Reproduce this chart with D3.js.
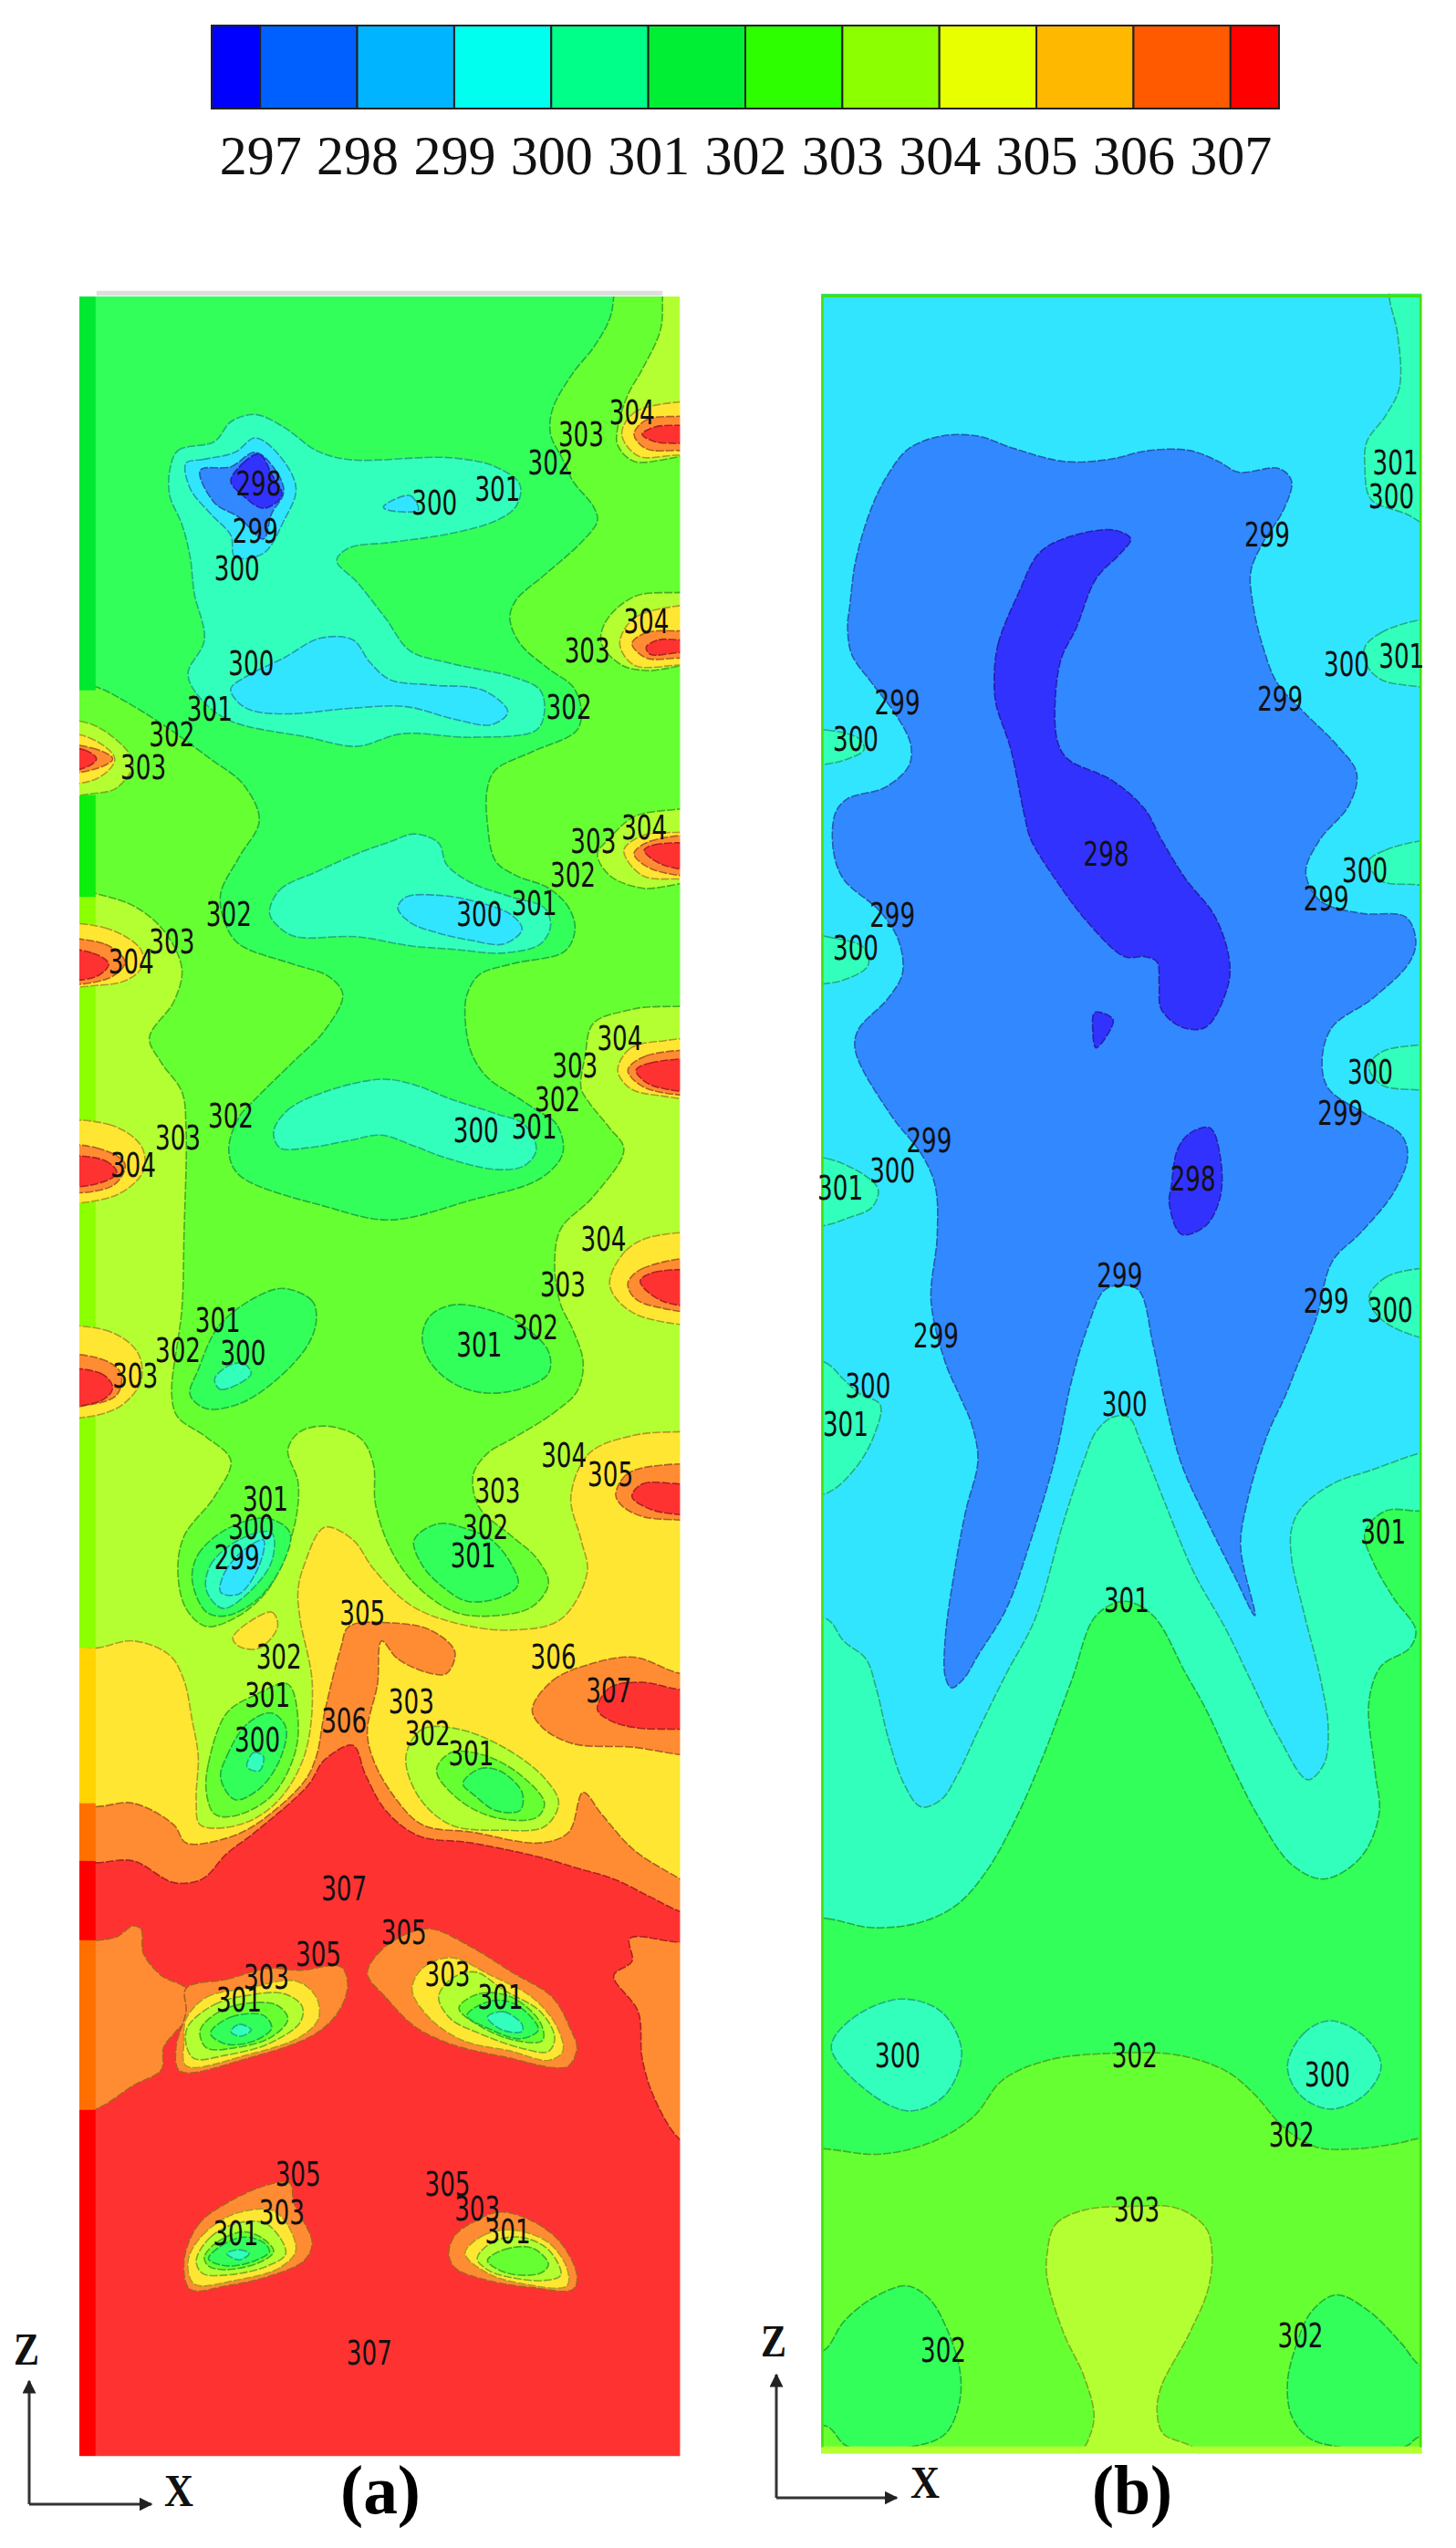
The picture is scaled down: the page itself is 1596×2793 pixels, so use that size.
<!DOCTYPE html>
<html>
<head>
<meta charset="utf-8">
<script src="https://cdn.jsdelivr.net/npm/d3@7.9.0/dist/d3.min.js"></script>
<style>
  body { margin: 0; background: #fff; }
  svg { display: block; }
  .contour-label { font-family: "DejaVu Sans Condensed", "DejaVu Sans", sans-serif; font-size: 37px; fill: #111; text-anchor: middle; dominant-baseline: central; }
  .bar-label { font-family: "Liberation Serif", serif; font-size: 62px; fill: #111; }
  .axis-name { font-family: "Liberation Serif", serif; font-size: 50px; font-weight: bold; fill: #111; text-anchor: middle; }
  .panel-name { font-family: "Liberation Serif", serif; font-size: 76px; font-weight: bold; fill: #000; text-anchor: middle; }
</style>
</head>
<body>
<svg id="chart" width="1596" height="2793"></svg>
<script>
// colour bar
const barTicks = [297, 298, 299, 300, 301, 302, 303, 304, 305, 306, 307];
const barEdges = [296.5, 297, 298, 299, 300, 301, 302, 303, 304, 305, 306, 307, 307.5];
const barColors = ['#0000ff', '#0060ff', '#00b4ff', '#00ffee', '#00ff88', '#00ee33', '#2dff00', '#8cff00', '#e8ff00', '#ffb800', '#ff5a00', '#ff0000'];

// filled bands, the plots are paler than the bar
const bandLevels = [298, 299, 300, 301, 302, 303, 304, 305, 306, 307];
const bandColors = ['#3333ff', '#3388ff', '#33e5ff', '#33ffbb', '#33ff5a', '#66ff33', '#b3ff33', '#ffe633', '#ff8c33', '#ff3333'];

// panel (a): [band, outline], painted in this order. x runs 0-1568 across a panel, z 0-6171 down the page
const regionsA = [
  [303, [[-50,-50],[1470,-50],[1470,38],[1465,130],[1420,240],[1385,310],[1360,400],[1360,450],[1400,495],[1600,490],[1600,830],[1400,870],[1330,940],[1320,1000],[1370,1060],[1430,1075],[1600,1070],[1600,1420],[1400,1480],[1340,1540],[1310,1583],[1340,1643],[1420,1678],[1600,1673],[1600,1975],[1400,2013],[1300,2053],[1280,2143],[1270,2233],[1290,2273],[1340,2343],[1375,2403],[1300,2533],[1220,2623],[1205,2723],[1220,2833],[1250,2903],[1275,2993],[1260,3073],[1200,3135],[1100,3205],[1040,3245],[1005,3305],[1020,3395],[1100,3475],[1160,3535],[1190,3605],[1150,3670],[1060,3695],[960,3685],[860,3605],[800,3505],[765,3385],[760,3275],[730,3205],[650,3170],[580,3185],[550,3235],[575,3325],[570,3425],[540,3535],[500,3625],[430,3695],[350,3725],[300,3675],[280,3575],[295,3475],[370,3365],[410,3265],[350,3200],[280,3145],[265,3085],[290,2843],[295,2643],[300,2343],[290,2243],[240,2163],[210,2093],[270,1993],[290,1903],[250,1803],[180,1733],[78,1693],[-50,1673]]],
  [302, [[-50,-50],[1350,-50],[1350,38],[1340,100],[1300,180],[1250,250],[1200,350],[1195,420],[1225,490],[1250,550],[1300,620],[1310,660],[1270,720],[1180,810],[1110,880],[1095,930],[1120,1000],[1190,1070],[1250,1120],[1270,1180],[1260,1240],[1150,1300],[1060,1350],[1040,1400],[1040,1500],[1060,1603],[1110,1643],[1190,1678],[1240,1733],[1255,1793],[1230,1853],[1100,1888],[1020,1918],[990,1973],[985,2033],[1000,2133],[1040,2203],[1120,2263],[1160,2293],[1210,2333],[1225,2413],[1170,2483],[1000,2543],[800,2598],[650,2563],[430,2473],[405,2403],[430,2313],[470,2263],[560,2163],[640,2073],[685,1973],[650,1923],[560,1888],[430,1833],[395,1773],[385,1693],[430,1593],[480,1490],[440,1390],[360,1320],[250,1230],[150,1160],[78,1120],[-50,1100]]],
  [302, [[620,2873],[610,2823],[540,2788],[470,2813],[380,2893],[330,3013],[310,3083],[350,3121],[430,3108],[520,3043],[600,2943]]],
  [301, [[370,3040],[385,3068],[460,3025],[440,2995],[400,3005]]],
  [302, [[880,2923],[900,2863],[960,2833],[1060,2853],[1130,2893],[1190,2963],[1190,3023],[1130,3063],[1040,3078],[960,3053],[900,2993]]],
  [301, [[260,520],[280,465],[370,440],[410,385],[470,365],[540,400],[620,465],[700,490],[950,485],[1060,510],[1120,560],[1110,620],[1060,660],[950,695],[800,720],[700,735],[670,770],[720,830],[790,930],[850,1020],[950,1055],[1110,1095],[1170,1130],[1180,1190],[1160,1240],[1000,1260],[830,1250],[720,1285],[600,1260],[400,1210],[320,1130],[305,1080],[345,990],[320,860],[310,760],[290,670],[260,590]]],
  [300, [[300,500],[340,490],[420,470],[470,430],[530,480],[570,570],[540,660],[490,750],[420,760],[410,700],[360,640],[310,570]]],
  [299, [[335,520],[410,510],[470,470],[520,520],[540,580],[510,640],[490,710],[430,650],[370,610]]],
  [298, [[410,550],[440,500],[480,475],[510,530],[535,590],[490,625],[440,590]]],
  [300, [[785,620],[850,590],[870,630],[790,628]]],
  [300, [[410,1125],[450,1090],[540,1040],[630,985],[710,990],[750,1050],[800,1100],[900,1115],[1030,1130],[1090,1190],[1050,1225],[960,1210],[840,1175],[700,1180],[550,1195],[460,1185],[425,1160]]],
  [301, [[505,1748],[530,1683],[620,1633],[730,1578],[800,1550],[860,1528],[920,1553],[940,1613],[1000,1663],[1100,1703],[1180,1733],[1195,1783],[1170,1833],[1080,1858],[960,1848],[850,1838],[720,1813],[570,1813],[530,1788]]],
  [300, [[820,1733],[840,1703],[920,1698],[1020,1718],[1100,1753],[1125,1793],[1080,1833],[1000,1823],[920,1803],[850,1773]]],
  [301, [[515,2353],[550,2293],[640,2243],[780,2208],[860,2223],[950,2263],[1060,2303],[1130,2333],[1160,2403],[1130,2448],[1060,2458],[930,2423],[860,2393],[780,2363],[700,2378],[600,2398],[530,2398]]],
  [302, [[315,3595],[330,3525],[400,3455],[500,3425],[555,3465],[540,3545],[480,3645],[400,3695],[350,3685]]],
  [301, [[350,3625],[360,3555],[430,3485],[510,3465],[510,3545],[450,3635],[390,3675]]],
  [300, [[385,3630],[395,3575],[440,3515],[490,3485],[480,3555],[430,3635]]],
  [302, [[860,3485],[920,3440],[990,3455],[1050,3485],[1100,3555],[1115,3610],[1070,3645],[990,3655],[930,3615],[880,3555]]],
  [305, [[-50,3785],[78,3785],[170,3765],[260,3805],[295,3875],[315,3985],[330,4085],[325,4205],[335,4275],[430,4275],[520,4215],[590,4085],[610,3885],[580,3705],[575,3625],[590,3555],[640,3450],[710,3485],[760,3565],[850,3665],[960,3715],[1100,3735],[1220,3705],[1285,3575],[1270,3485],[1245,3365],[1290,3245],[1400,3195],[1513,3185],[1600,3185],[1600,6300],[-50,6300]]],
  [305, [[415,3755],[510,3685],[525,3725],[480,3785],[430,3780]]],
  [303, [[350,4185],[355,4105],[400,3965],[470,3915],[550,3885],[575,3985],[565,4085],[510,4195],[420,4250],[370,4245]]],
  [302, [[385,4145],[400,4085],[450,3995],[510,3965],[545,4005],[530,4095],[480,4175],[420,4205]]],
  [301, [[450,4115],[465,4075],[490,4085],[480,4125]]],
  [304, [[840,4085],[880,4010],[970,4010],[1080,4060],[1180,4145],[1215,4215],[1180,4280],[1080,4290],[950,4275],[870,4195]]],
  [303, [[915,4125],[950,4075],[1040,4085],[1130,4145],[1180,4215],[1160,4255],[1060,4255],[970,4205]]],
  [302, [[980,4160],[1020,4120],[1070,4125],[1125,4185],[1120,4235],[1060,4235],[1010,4195]]],
  [306, [[-50,4220],[78,4225],[170,4215],[270,4275],[300,4325],[390,4315],[470,4275],[590,4155],[620,4085],[640,3965],[680,3785],[700,3725],[800,3715],[900,3735],[960,3795],[940,3855],[900,3855],[820,3815],[780,3765],[770,3885],[745,4015],[760,4095],[810,4195],[880,4275],[1000,4295],[1170,4325],[1240,4295],[1275,4185],[1320,4245],[1400,4345],[1513,4425],[1600,4480],[1600,6300],[-50,6300]]],
  [306, [[1150,3955],[1200,3875],[1290,3830],[1400,3810],[1513,3855],[1600,3855],[1600,4085],[1513,4080],[1400,4060],[1250,4050],[1175,4005]]],
  [307, [[1310,3955],[1340,3895],[1420,3880],[1513,3900],[1600,3900],[1600,4010],[1513,4010],[1400,4005],[1340,3985]]],
  [306, [[1355,3360],[1380,3305],[1450,3280],[1600,3295],[1600,3435],[1513,3430],[1420,3420],[1370,3390]]],
  [307, [[1395,3365],[1420,3330],[1513,3330],[1600,3335],[1600,3420],[1513,3415],[1440,3400]]],
  [307, [[-50,4375],[78,4380],[170,4375],[270,4435],[340,4425],[400,4355],[470,4295],[600,4165],[640,4095],[710,4055],[740,4135],[790,4235],[870,4305],[1000,4325],[1170,4365],[1260,4395],[1350,4425],[1440,4475],[1513,4515],[1600,4540],[1600,4590],[1513,4600],[1390,4590],[1395,4653],[1350,4693],[1410,4793],[1420,4923],[1450,5033],[1513,5148],[1600,5200],[1600,6300],[-50,6300]]],
  [306, [[-50,4590],[78,4595],[130,4585],[170,4555],[190,4565],[195,4630],[240,4693],[300,4728],[320,4790],[275,4848],[245,4893],[240,4953],[170,4998],[78,5063],[-50,5083]]],
  [306, [[300,4728],[400,4703],[500,4673],[580,4678],[680,4668],[697,4713],[680,4783],[620,4853],[450,4923],[285,4958],[275,4893],[300,4793]]],
  [305, [[300,4813],[350,4753],[450,4728],[570,4708],[620,4753],[625,4813],[580,4863],[450,4913],[300,4943],[295,4873]]],
  [304, [[305,4833],[370,4773],[450,4748],[540,4743],[585,4778],[580,4823],[500,4883],[400,4913],[320,4923],[300,4883]]],
  [303, [[335,4843],[400,4783],[520,4773],[550,4813],[510,4863],[420,4893],[350,4893]]],
  [302, [[360,4853],[410,4808],[490,4803],[510,4838],[470,4873],[400,4883]]],
  [301, [[410,4848],[430,4828],[460,4843],[435,4861]]],
  [306, [[745,4688],[770,4633],[830,4583],[900,4563],[1000,4613],[1100,4683],[1200,4753],[1245,4843],[1260,4893],[1240,4943],[1200,4948],[1100,4923],[950,4883],[860,4833],[790,4753]]],
  [305, [[855,4733],[880,4673],[950,4643],[1050,4693],[1150,4753],[1210,4833],[1225,4903],[1190,4928],[1100,4903],[980,4873],[900,4813]]],
  [304, [[920,4753],[950,4703],[1010,4683],[1080,4733],[1170,4793],[1205,4863],[1190,4903],[1120,4893],[1020,4853],[950,4813]]],
  [303, [[970,4783],[1020,4743],[1100,4753],[1170,4823],[1175,4873],[1110,4873],[1030,4838]]],
  [302, [[990,4803],[1050,4763],[1110,4773],[1165,4843],[1120,4868],[1050,4843]]],
  [301, [[1040,4808],[1080,4793],[1125,4828],[1125,4848],[1075,4843]]],
  [306, [[295,5483],[330,5383],[400,5323],[500,5273],[555,5268],[565,5323],[610,5433],[590,5483],[500,5528],[400,5553],[310,5563]]],
  [305, [[305,5483],[340,5413],[420,5353],[520,5348],[570,5453],[530,5503],[420,5538],[320,5548]]],
  [304, [[325,5483],[360,5418],[430,5378],[500,5383],[545,5463],[500,5498],[400,5523],[340,5518]]],
  [303, [[345,5473],[375,5433],[440,5403],[490,5423],[515,5458],[480,5488],[400,5508],[355,5498]]],
  [302, [[355,5478],[385,5443],[440,5418],[490,5433],[505,5458],[470,5483],[400,5498]]],
  [301, [[400,5463],[430,5453],[455,5463],[430,5481]]],
  [306, [[945,5463],[960,5413],[1010,5373],[1070,5348],[1150,5373],[1220,5433],[1260,5523],[1250,5563],[1150,5558],[1040,5538],[960,5503]]],
  [305, [[985,5463],[1030,5413],[1100,5398],[1190,5433],[1235,5503],[1235,5553],[1130,5548],[1040,5518]]],
  [304, [[1015,5478],[1050,5433],[1120,5418],[1190,5453],[1220,5523],[1180,5538],[1090,5528],[1040,5508]]],
  [303, [[1040,5483],[1080,5453],[1150,5448],[1190,5493],[1170,5518],[1090,5518]]],
  [305, [[1370,420],[1400,360],[1513,330],[1600,330],[1600,490],[1513,478],[1410,480]]],
  [306, [[1400,420],[1430,380],[1513,370],[1600,370],[1600,470],[1513,465],[1430,460]]],
  [307, [[1420,420],[1450,400],[1513,395],[1600,395],[1600,445],[1513,445],[1450,440]]],
  [305, [[1365,1000],[1400,930],[1513,895],[1600,895],[1600,1060],[1513,1060],[1400,1060]]],
  [306, [[1395,1000],[1430,970],[1513,965],[1600,965],[1600,1040],[1513,1040],[1430,1040]]],
  [307, [[1430,1010],[1460,990],[1513,990],[1600,990],[1600,1025],[1513,1025],[1440,1030]]],
  [305, [[1375,1573],[1420,1533],[1513,1523],[1600,1523],[1600,1653],[1513,1653],[1420,1643]]],
  [306, [[1400,1583],[1440,1548],[1600,1543],[1600,1633],[1450,1628]]],
  [307, [[1425,1573],[1450,1558],[1600,1568],[1600,1623],[1470,1613]]],
  [305, [[1360,2183],[1390,2123],[1460,2103],[1600,2108],[1600,2253],[1460,2253],[1390,2233]]],
  [306, [[1385,2183],[1430,2143],[1600,2143],[1600,2238],[1430,2233]]],
  [307, [[1405,2183],[1440,2163],[1600,2163],[1600,2233],[1440,2223]]],
  [305, [[1340,2773],[1380,2683],[1450,2643],[1600,2653],[1600,2873],[1440,2873],[1370,2833]]],
  [306, [[1385,2773],[1420,2733],[1600,2713],[1600,2843],[1450,2838],[1400,2813]]],
  [307, [[1415,2768],[1450,2743],[1600,2753],[1600,2828],[1470,2823]]]
];

// hot spots on the left wall of (a), painted over the wall strip
const wallSpotsA = [
  [304, [[-50,1215],[40,1215],[110,1250],[170,1330],[130,1400],[78,1415],[-50,1410]]],
  [305, [[-50,1255],[60,1260],[125,1320],[80,1375],[-50,1380]]],
  [306, [[-50,1285],[70,1290],[120,1320],[70,1350],[-50,1355]]],
  [307, [[-50,1295],[50,1295],[80,1320],[50,1345],[-50,1350]]],
  [305, [[-50,1793],[100,1788],[190,1850],[190,1900],[150,1935],[78,1948],[-50,1943]]],
  [306, [[-50,1833],[100,1833],[150,1883],[110,1928],[-50,1933]]],
  [307, [[-50,1853],[70,1858],[110,1888],[80,1923],[-50,1923]]],
  [305, [[-50,2343],[110,2333],[190,2393],[195,2463],[120,2533],[-50,2533]]],
  [306, [[-50,2403],[80,2398],[150,2443],[120,2503],[-50,2508]]],
  [307, [[-50,2433],[100,2433],[130,2468],[80,2498],[-50,2498]]],
  [305, [[-50,2913],[100,2903],[180,2963],[190,3043],[150,3105],[110,3130],[50,3145],[-50,3145]]],
  [306, [[-50,2983],[90,2983],[140,3023],[130,3083],[60,3111],[-50,3111]]],
  [307, [[-50,3023],[90,3023],[120,3063],[90,3100],[-50,3105]]]
];

// [from z, to z, colour]
const wallStripA = [
  [38, 1130, '#00e832'], [1130, 1420, '#66ff33'], [1420, 1703, '#10ee10'], [1703, 3785, '#8cff00'],
  [3785, 4215, '#ffd400'], [4215, 4375, '#ff7000'], [4375, 4595, '#ff0000'], [4595, 5065, '#ff7000'], [5065, 6025, '#ff0000']
];

const labelsA = [
  [1395,360,304],[1270,420,303],[1195,500,302],[1065,572,301],[910,610,300],[478,558,298],[470,688,299],[425,793,300],
  [1430,940,304],[1285,1020,303],[460,1055,300],[1240,1178,302],[358,1183,301],[265,1253,302],[195,1345,303],[1425,1510,304],[1300,1550,303],
  [1250,1643,302],[1155,1721,301],[1020,1751,300],[405,1751,302],[265,1828,303],[165,1883,304],[1365,2096,304],[1255,2171,303],[1212,2265,302],
  [1155,2341,301],[1012,2351,300],[410,2311,302],[280,2371,303],[170,2448,304],[1325,2653,304],[1225,2778,303],[1158,2898,302],[1020,2946,301],
  [378,2878,301],[280,2961,302],[440,2968,300],[175,3030,303],[1228,3252,304],[1342,3305,305],[1065,3350,303],[495,3373,301],[460,3450,300],
  [1035,3450,302],[425,3535,299],[1005,3530,301],[733,3688,305],[528,3810,302],[1202,3810,306],[500,3917,301],[853,3933,303],[1338,3903,307],
  [688,3988,306],[893,4023,302],[475,4040,300],[1000,4078,301],[688,4453,307],[835,4575,305],[625,4635,305],[497,4698,303],[430,4761,301],
  [942,4691,303],[1072,4753,301],[575,5243,305],[942,5273,305],[535,5351,303],[1015,5341,303],[422,5408,301],[1090,5403,301],[750,5741,307]
];

// panel (b), same units
const regionsB = [
  [301, [[1440,-50],[1440,40],[1460,140],[1465,290],[1430,370],[1385,440],[1380,510],[1395,600],[1480,640],[1600,700],[1600,-50]]],
  [301, [[1380,1010],[1420,970],[1513,935],[1600,930],[1600,1130],[1513,1120],[1420,1100],[1385,1060]]],
  [301, [[-50,1240],[60,1240],[140,1265],[150,1295],[110,1320],[55,1335],[-50,1345]]],
  [301, [[-50,1793],[60,1813],[150,1843],[160,1893],[100,1933],[55,1943],[-50,1953]]],
  [301, [[1390,1603],[1430,1573],[1513,1548],[1600,1543],[1600,1673],[1500,1668],[1420,1658]]],
  [301, [[1390,2173],[1420,2133],[1513,2113],[1600,2113],[1600,2243],[1513,2238],[1420,2223]]],
  [301, [[1390,2813],[1430,2758],[1513,2733],[1600,2733],[1600,2933],[1513,2923],[1420,2873]]],
  [301, [[-50,2423],[60,2428],[150,2473],[185,2513],[170,2563],[110,2593],[55,2613],[-50,2623]]],
  [301, [[-50,2983],[55,2993],[100,3040],[140,3080],[190,3110],[175,3195],[130,3285],[60,3355],[-50,3370],[-50,3700],[60,3705],[100,3765],[155,3815],[180,3895],[210,4035],[250,4165],[290,4225],[340,4205],[380,4135],[430,4015],[500,3855],[570,3705],[640,3435],[690,3265],[720,3185],[760,3145],[800,3145],[830,3215],[890,3385],[960,3575],[1040,3735],[1100,3875],[1170,4035],[1240,4150],[1280,4105],[1290,4005],[1270,3865],[1230,3685],[1200,3535],[1200,3455],[1225,3395],[1300,3330],[1400,3290],[1513,3245],[1600,3225],[1600,6300],[-50,6300]]],
  [302, [[-50,4530],[60,4535],[170,4560],[290,4545],[380,4495],[450,4405],[520,4265],[590,4085],[660,3875],[720,3695],[790,3655],[860,3695],[940,3855],[990,3955],[1060,4125],[1120,4255],[1200,4385],[1280,4425],[1370,4365],[1415,4245],[1405,4125],[1390,3935],[1420,3835],[1490,3785],[1505,3735],[1450,3645],[1400,3545],[1380,3465],[1430,3405],[1513,3405],[1600,3405],[1600,6300],[-50,6300]]],
  [301, [[70,4893],[120,4813],[240,4758],[340,4793],[390,4903],[350,5023],[265,5068],[170,5023]]],
  [301, [[1190,4943],[1230,4853],[1295,4818],[1380,4863],[1420,4943],[1380,5023],[1295,5063],[1220,5023]]],
  [303, [[-50,5173],[50,5173],[190,5188],[320,5153],[420,5083],[490,4983],[600,4928],[760,4908],[920,4913],[1040,4958],[1110,5023],[1180,5113],[1260,5168],[1360,5173],[1460,5158],[1520,5143],[1600,5143],[1600,6300],[-50,6300]]],
  [304, [[600,5463],[620,5383],[690,5343],[800,5333],[920,5338],[990,5393],[1005,5463],[995,5563],[950,5683],[880,5833],[870,5903],[885,5963],[960,6003],[1000,6083],[650,6083],[700,5983],[715,5913],[690,5803],[640,5683],[600,5533]]],
  [302, [[-50,5733],[50,5733],[100,5653],[170,5588],[255,5553],[310,5588],[350,5663],[385,5783],[385,5873],[350,5963],[270,5998],[110,5998],[60,5943],[-50,5933]]],
  [302, [[1190,5823],[1210,5723],[1250,5623],[1310,5578],[1390,5623],[1470,5713],[1515,5773],[1600,5803],[1600,5953],[1510,5973],[1480,5998],[1310,5998],[1240,5973],[1200,5913]]],
  [299, [[115,900],[130,770],[170,620],[210,530],[260,460],[340,425],[430,425],[520,460],[640,495],[750,490],[850,465],[950,465],[1020,495],[1070,525],[1170,515],[1200,550],[1180,630],[1130,720],[1100,800],[1105,890],[1130,1010],[1165,1110],[1230,1190],[1310,1280],[1360,1360],[1340,1450],[1270,1543],[1235,1633],[1270,1713],[1370,1748],[1480,1758],[1505,1823],[1490,1883],[1400,1983],[1300,2063],[1275,2153],[1290,2233],[1380,2303],[1470,2363],[1485,2423],[1450,2523],[1370,2633],[1300,2713],[1260,2873],[1210,3013],[1185,3085],[1140,3195],[1090,3385],[1075,3505],[1110,3695],[1060,3585],[990,3425],[930,3275],[890,3105],[860,2943],[825,2793],[780,2778],[740,2793],[700,2893],[660,3043],[620,3255],[560,3485],[500,3675],[430,3805],[395,3870],[365,3895],[350,3865],[350,3755],[375,3555],[400,3405],[430,3265],[415,3165],[385,3085],[350,2993],[315,2823],[330,2643],[325,2503],[290,2413],[220,2313],[130,2133],[135,2073],[210,1983],[245,1913],[235,1823],[190,1743],[100,1653],[75,1573],[80,1470],[110,1430],[200,1400],[260,1340],[265,1280],[230,1200],[170,1110],[120,1030],[110,950]]],
  [298, [[470,1100],[480,1000],[530,860],[580,750],[640,710],[760,685],[805,710],[780,750],[720,820],[670,960],[635,1040],[620,1150],[625,1270],[650,1320],[760,1380],[840,1460],[880,1543],[940,1653],[1010,1753],[1045,1863],[1045,1943],[990,2063],[930,2063],[880,2013],[875,1943],[870,1883],[840,1868],[790,1868],[700,1773],[620,1653],[560,1543],[545,1480],[510,1290],[475,1170]]],
  [298, [[717,2023],[762,2043],[720,2121],[712,2073]]],
  [298, [[905,2503],[920,2403],[950,2358],[1000,2343],[1025,2423],[1025,2533],[990,2613],[930,2638],[900,2553]]]
];

const labelsB = [
  [1455,500,301],[1445,592,300],[1140,700,299],[1335,1058,300],[1470,1035,301],[232,1165,299],[1172,1155,299],[130,1265,300],
  [745,1585,298],[1380,1631,300],[1285,1708,299],[220,1753,299],[130,1846,300],[1393,2188,300],[1320,2303,299],[310,2378,299],[220,2463,300],
  [92,2511,301],[958,2486,298],[778,2753,299],[1285,2823,299],[1442,2848,300],[327,2921,299],[160,3058,300],[790,3110,300],[105,3165,301],
  [1425,3463,301],[795,3653,301],[233,4915,300],[815,4915,302],[1288,4968,300],[1200,5136,302],[820,5343,303],[345,5731,302],[1222,5693,302]
];

const svg = d3.select('#chart');
const band = d3.scaleOrdinal(bandLevels, bandColors);
const zScale = d3.scaleLinear().domain([0, 6171]).range([310, 2750]);
const outline = (x) => d3.line()
  .x(d => x(d[0]))
  .y(d => zScale(d[1]))
  .curve(d3.curveCatmullRomClosed.alpha(0.5));

// soft edge, the source is a scanned raster
const defs = svg.append('defs');
defs.append('filter').attr('id', 'soft')
  .append('feGaussianBlur').attr('stdDeviation', 0.7);

function drawRegions(g, regions, path) {
  g.selectAll(null)
    .data(regions)
    .join('path')
    .attr('d', d => path(d[1]))
    .attr('fill', d => band(d[0]))
    .attr('stroke', d => d3.color(band(d[0])).darker(1.1))
    .attr('stroke-width', 1.6)
    .attr('stroke-dasharray', '9 2');
}

function drawLabels(g, labels, x) {
  g.selectAll(null)
    .data(labels)
    .join('text')
    .attr('class', 'contour-label')
    .attr('x', d => x(d[0]))
    .attr('y', d => zScale(d[1]))
    .attr('textLength', 50)
    .attr('lengthAdjust', 'spacingAndGlyphs')
    .text(d => d[2]);
}

function panelFrame(id, x, left, top, right, bottom, baseLevel) {
  defs.append('clipPath').attr('id', id)
    .append('rect')
    .attr('x', x(left)).attr('y', zScale(top))
    .attr('width', x(right) - x(left)).attr('height', zScale(bottom) - zScale(top));
  const g = svg.append('g').attr('clip-path', `url(#${id})`).attr('filter', 'url(#soft)');
  g.append('rect')
    .attr('x', x(left)).attr('y', zScale(top))
    .attr('width', x(right) - x(left)).attr('height', zScale(bottom) - zScale(top))
    .attr('fill', band(baseLevel));
  return g;
}

// panel a
const xA = d3.scaleLinear().domain([0, 1568]).range([70, 770]);
const gA = panelFrame('clipA', xA, 38, 38, 1513, 6025, 304);
drawRegions(gA, regionsA, outline(xA));
gA.selectAll(null)
  .data(wallStripA)
  .join('rect')
  .attr('x', xA(38))
  .attr('width', xA(78) - xA(38))
  .attr('y', d => zScale(d[0]))
  .attr('height', d => zScale(d[1]) - zScale(d[0]))
  .attr('fill', d => d[2]);
drawRegions(gA, wallSpotsA, outline(xA));
svg.append('rect')
  .attr('x', xA(80)).attr('y', zScale(22))
  .attr('width', xA(1470) - xA(80)).attr('height', zScale(36) - zScale(22))
  .attr('fill', '#dedede');
drawLabels(svg.append('g'), labelsA, xA);

// panel b
const xB = d3.scaleLinear().domain([0, 1568]).range([880, 1580]);
const gB = panelFrame('clipB', xB, 45, 30, 1520, 6018, 300);
drawRegions(gB, regionsB, outline(xB));
gB.append('rect')
  .attr('x', xB(45)).attr('y', zScale(5998))
  .attr('width', xB(1520) - xB(45)).attr('height', zScale(6018) - zScale(5998))
  .attr('fill', band(304));
gB.append('path')
  .attr('d', `M${xB(47)},${zScale(6000)}V${zScale(36)}H${xB(1518)}V${zScale(6000)}`)
  .attr('fill', 'none')
  .attr('stroke', '#44e010')
  .attr('stroke-width', 3.5);
drawLabels(svg.append('g'), labelsB, xB);

// colour bar
const barScale = d3.scaleLinear().domain([296.5, 307.5]).range([232, 1402]);
const barTop = 28;
const barBottom = 119;
svg.append('g')
  .selectAll('rect')
  .data(barColors)
  .join('rect')
  .attr('x', (d, i) => barScale(barEdges[i]))
  .attr('width', (d, i) => barScale(barEdges[i + 1]) - barScale(barEdges[i]))
  .attr('y', barTop)
  .attr('height', barBottom - barTop)
  .attr('fill', d => d)
  .attr('stroke', '#222')
  .attr('stroke-width', 2);

const barAxis = d3.axisBottom(barScale).tickValues(barTicks).tickSize(0).tickFormat(d3.format('d'));
const barAxisG = svg.append('g').attr('transform', `translate(0,${barTop + 100})`).call(barAxis);
barAxisG.select('.domain').remove();
barAxisG.selectAll('text')
  .attr('class', 'bar-label')
  .attr('y', 0)
  .attr('dy', 63)
  .attr('fill', null)
  .attr('textLength', 90)
  .attr('lengthAdjust', 'spacingAndGlyphs');

// axis arrows and panel names
defs.append('marker').attr('id', 'arrow')
  .attr('viewBox', '0 0 10 10').attr('refX', 9).attr('refY', 5)
  .attr('markerWidth', 5).attr('markerHeight', 5).attr('orient', 'auto')
  .append('path').attr('d', 'M0,0L10,5L0,10Z').attr('fill', '#222');

function axisCross(x0, y0, top, right) {
  const g = svg.append('g').attr('fill', 'none').attr('stroke', '#333').attr('stroke-width', 3);
  g.append('line').attr('x1', x0).attr('y1', y0).attr('x2', x0).attr('y2', top).attr('marker-end', 'url(#arrow)');
  g.append('line').attr('x1', x0).attr('y1', y0).attr('x2', right).attr('y2', y0).attr('marker-end', 'url(#arrow)');
}

function caption(cls, x, y, text, width) {
  svg.append('text').attr('class', cls).attr('x', x).attr('y', y)
    .attr('textLength', width).attr('lengthAdjust', 'spacingAndGlyphs').text(text);
}

axisCross(32, 2745, 2610, 166);
axisCross(851, 2738, 2603, 983);
caption('axis-name', 29, 2592, 'Z', 28);
caption('axis-name', 196, 2747, 'X', 32);
caption('axis-name', 848, 2583, 'Z', 28);
caption('axis-name', 1014, 2738, 'X', 32);
caption('panel-name', 417, 2755, '(a)', 88);
caption('panel-name', 1241, 2755, '(b)', 88);
</script>
</body>
</html>
